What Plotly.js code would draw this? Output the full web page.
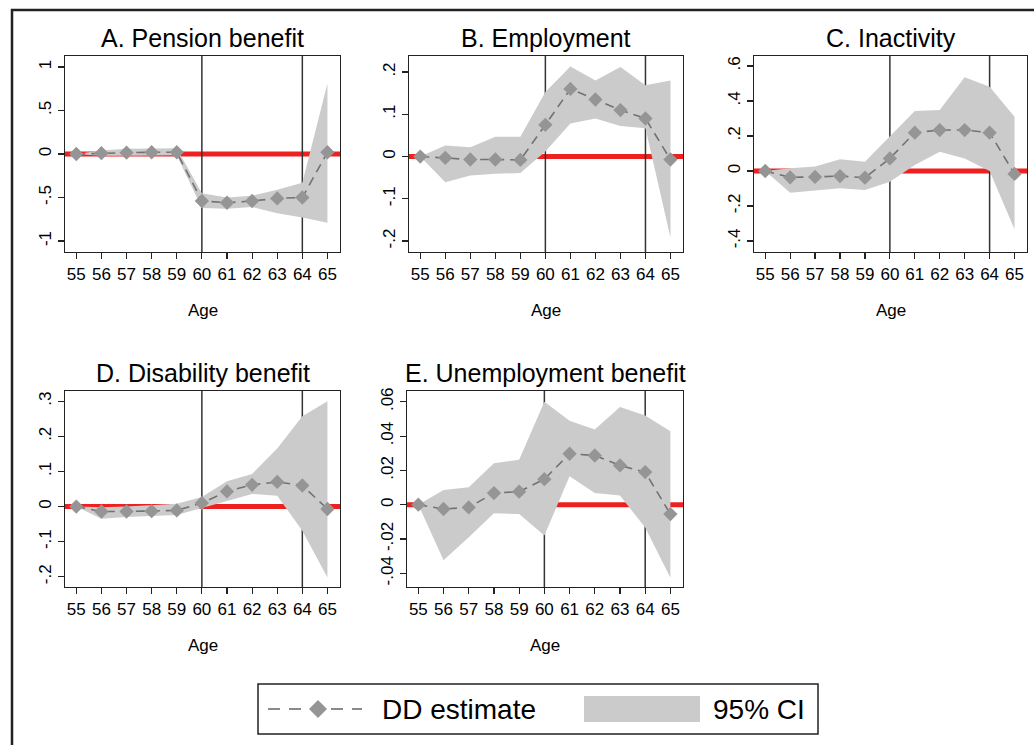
<!DOCTYPE html>
<html>
<head>
<meta charset="utf-8">
<script src="https://cdn.plot.ly/plotly-3.0.1.min.js"></script>
<style>html,body{margin:0;padding:0;background:#fff;}#chart{width:1034px;height:745px;}</style>
</head>
<body>
<div id="chart"></div>
<script>
// ---- data ----
const ages = [55, 56, 57, 58, 59, 60, 61, 62, 63, 64, 65];
const xTickLabels = ["55","56","57","58","59","60","61","62","63","64","65"];

const pensionEst = [0, 0.01, 0.015, 0.02, 0.02, -0.54, -0.56, -0.54, -0.51, -0.50, 0.02];
const pensionLo  = [0, -0.02, -0.02, -0.015, -0.015, -0.62, -0.63, -0.61, -0.68, -0.73, -0.79];
const pensionHi  = [0, 0.04, 0.06, 0.065, 0.065, -0.45, -0.50, -0.48, -0.41, -0.33, 0.81];

const employEst = [0, -0.003, -0.007, -0.007, -0.008, 0.075, 0.16, 0.135, 0.11, 0.09, -0.007];
const employLo  = [0, -0.061, -0.045, -0.041, -0.039, 0.012, 0.078, 0.09, 0.072, 0.067, -0.192];
const employHi  = [0, 0.026, 0.022, 0.047, 0.047, 0.153, 0.213, 0.18, 0.212, 0.169, 0.18];

const inactEst = [0, -0.036, -0.034, -0.029, -0.038, 0.072, 0.219, 0.234, 0.234, 0.219, -0.017];
const inactLo  = [0, -0.124, -0.112, -0.099, -0.109, -0.061, 0.034, 0.11, 0.072, 0.0, -0.333];
const inactHi  = [0, 0.015, 0.025, 0.067, 0.053, 0.196, 0.343, 0.349, 0.535, 0.482, 0.31];

const disabEst = [0, -0.014, -0.014, -0.013, -0.011, 0.01, 0.043, 0.062, 0.07, 0.06, -0.007];
const disabLo  = [0, -0.035, -0.03, -0.028, -0.024, -0.004, 0.015, 0.036, 0.031, -0.069, -0.202];
const disabHi  = [0, -0.002, 0.0, 0.003, 0.008, 0.027, 0.072, 0.093, 0.165, 0.257, 0.30];

const unempEst = [0, -0.0025, -0.0016, 0.0068, 0.0076, 0.0149, 0.0297, 0.0287, 0.0229, 0.019, -0.0055];
const unempLo  = [0, -0.0324, -0.019, -0.005, -0.0055, -0.018, 0.0166, 0.0068, 0.0053, -0.0133, -0.0426];
const unempHi  = [0, 0.0086, 0.0102, 0.0242, 0.0262, 0.06, 0.0489, 0.0438, 0.057, 0.052, 0.0428];

const panelTitles = ["A. Pension benefit", "B. Employment", "C. Inactivity", "D. Disability benefit", "E. Unemployment benefit"];
const yTickVals = [
  [-1, -0.5, 0, 0.5, 1],
  [-0.2, -0.1, 0, 0.1, 0.2],
  [-0.4, -0.2, 0, 0.2, 0.4, 0.6],
  [-0.2, -0.1, 0, 0.1, 0.2, 0.3],
  [-0.04, -0.02, 0, 0.02, 0.04, 0.06]
];
const yTickText = [
  ["-1", "-.5", "0", ".5", "1"],
  ["-.2", "-.1", "0", ".1", ".2"],
  ["-.4", "-.2", "0", ".2", ".4", ".6"],
  ["-.2", "-.1", "0", ".1", ".2", ".3"],
  ["-.04", "-.02", "0", ".02", ".04", ".06"]
];
const cutoffAges = [60, 64];
const legendLabels = ["DD estimate", "95% CI"];

// ---- layout geometry (pixels) ----
const W = 1034, H = 745;
const px = v => v / W;
const py = v => 1 - v / H;
const panels = [
  {x0: 65,  x1: 340,  y0: 56,  y1: 252, yr: [-1.126, 1.126]},
  {x0: 409, x1: 683,  y0: 56,  y1: 252, yr: [-0.226, 0.238]},
  {x0: 754, x1: 1027, y0: 56,  y1: 252, yr: [-0.463, 0.657]},
  {x0: 65,  x1: 340,  y0: 391, y1: 587, yr: [-0.229, 0.329]},
  {x0: 407, x1: 683,  y0: 391, y1: 587, yr: [-0.048, 0.0663]}
];
const series = [
  [pensionEst, pensionLo, pensionHi],
  [employEst, employLo, employHi],
  [inactEst, inactLo, inactHi],
  [disabEst, disabLo, disabHi],
  [unempEst, unempLo, unempHi]
];

const FONT = "Liberation Sans, Arial, sans-serif";
const BAND = "#cbcbcb";
const LINEC = "#727272";
const MARKC = "#959595";
const RED = "#ee2020";

const traces = [];
const layout = {
  width: W, height: H,
  margin: {l: 0, r: 0, t: 0, b: 0},
  paper_bgcolor: "#ffffff",
  plot_bgcolor: "#ffffff",
  showlegend: false,
  font: {family: FONT, color: "#000", size: 17},
  shapes: [],
  annotations: []
};

panels.forEach((p, i) => {
  const n = i + 1;
  const xa = n === 1 ? "x" : "x" + n;
  const ya = n === 1 ? "y" : "y" + n;
  const [est, lo, hi] = series[i];
  traces.push({x: ages, y: lo, xaxis: xa, yaxis: ya, mode: "lines", line: {width: 0, color: BAND}, hoverinfo: "skip"});
  traces.push({x: ages, y: hi, xaxis: xa, yaxis: ya, mode: "lines", fill: "tonexty", fillcolor: BAND, line: {width: 0, color: BAND}, hoverinfo: "skip"});
  traces.push({x: ages, y: est, xaxis: xa, yaxis: ya, mode: "lines+markers",
    line: {color: LINEC, width: 1.6, dash: "9px,6px"},
    marker: {symbol: "diamond", size: 11, color: MARKC, line: {width: 0}}});

  const axBase = {
    showgrid: false, zeroline: false, showline: true, mirror: true,
    linecolor: "#222", linewidth: 1.3, ticks: "outside", ticklen: 6, tickwidth: 1.2, tickcolor: "#222",
    tickfont: {family: FONT, size: 17, color: "#000"}
  };
  layout["xaxis" + (n === 1 ? "" : n)] = Object.assign({}, axBase, {
    domain: [px(p.x0), px(p.x1)], anchor: ya, range: [54.55, 65.5],
    tickvals: ages, ticktext: xTickLabels, tickangle: 0
  });
  layout["yaxis" + (n === 1 ? "" : n)] = Object.assign({}, axBase, {
    domain: [py(p.y1), py(p.y0)], anchor: xa, range: p.yr,
    tickvals: yTickVals[i], ticktext: yTickText[i], tickangle: -90
  });
  // zero line (red)
  layout.shapes.push({type: "line", layer: "below", xref: xa + " domain", yref: ya, x0: 0, x1: 1, y0: 0, y1: 0, line: {color: RED, width: 5}});
  // cutoff verticals
  cutoffAges.forEach(a => layout.shapes.push({type: "line", layer: "below", xref: xa, yref: ya + " domain", x0: a, x1: a, y0: 0, y1: 1, line: {color: "#333", width: 1.5}}));
  // panel title
  layout.annotations.push({text: panelTitles[i], xref: "paper", yref: "paper", x: px((p.x0 + p.x1) / 2), y: py(p.y0 - 18), xanchor: "center", yanchor: "middle", showarrow: false, font: {family: FONT, size: 25, color: "#000"}});
  // x axis title
  layout.annotations.push({text: "Age", xref: "paper", yref: "paper", x: px((p.x0 + p.x1) / 2), y: py(p.y1 + 58), xanchor: "center", yanchor: "middle", showarrow: false, font: {family: FONT, size: 17, color: "#000"}});
});

// outer frame
layout.shapes.push({type: "rect", xref: "paper", yref: "paper", x0: px(12), x1: 1.05, y0: -0.05, y1: py(10), line: {color: "#222", width: 2.5}, fillcolor: "rgba(0,0,0,0)"});

// legend box
layout.shapes.push({type: "rect", xref: "paper", yref: "paper", x0: px(258), x1: px(818), y0: py(734), y1: py(684), line: {color: "#222", width: 1.5}, fillcolor: "rgba(0,0,0,0)"});
layout.shapes.push({type: "line", xref: "paper", yref: "paper", x0: px(268), x1: px(362), y0: py(709), y1: py(709), line: {color: "#8a8a8a", width: 2, dash: "12px,9px"}});
const dc = [318, 709], dr = 9;
layout.shapes.push({type: "path", xref: "paper", yref: "paper",
  path: `M ${px(dc[0] - dr)} ${py(dc[1])} L ${px(dc[0])} ${py(dc[1] - dr)} L ${px(dc[0] + dr)} ${py(dc[1])} L ${px(dc[0])} ${py(dc[1] + dr)} Z`,
  fillcolor: MARKC, line: {width: 0}});
layout.shapes.push({type: "rect", xref: "paper", yref: "paper", x0: px(584), x1: px(700), y0: py(722), y1: py(696), fillcolor: BAND, line: {width: 0}});
layout.annotations.push({text: legendLabels[0], xref: "paper", yref: "paper", x: px(380), y: py(709), xanchor: "left", yanchor: "middle", showarrow: false, font: {family: FONT, size: 28, color: "#000"}});
layout.annotations.push({text: legendLabels[1], xref: "paper", yref: "paper", x: px(711), y: py(709), xanchor: "left", yanchor: "middle", showarrow: false, font: {family: FONT, size: 28, color: "#000"}});

Plotly.newPlot("chart", traces, layout, {staticPlot: true, displayModeBar: false});
</script>
</body>
</html>
